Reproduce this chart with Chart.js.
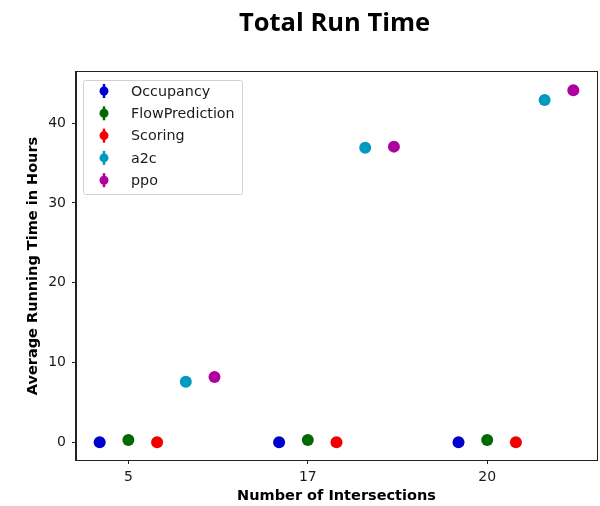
<!DOCTYPE html>
<html>
<head>
<meta charset="utf-8">
<script src="https://cdn.jsdelivr.net/npm/chart.js@4/dist/chart.umd.min.js"></script>
<style>
  html, body { margin: 0; padding: 0; background: #fff; }
  #wrap { width: 600px; height: 506px; position: relative; }
</style>
</head>
<body>
<div id="wrap"><canvas id="chart"></canvas></div>
<script>
// categories along x
const intersections = ["5", "17", "20"];
const seriesNames = ["Occupancy", "FlowPrediction", "Scoring", "a2c", "ppo"];

// average running time in hours, one value per intersection count
const occupancy = [0.0, 0.0, 0.0];
const flowPrediction = [0.3, 0.3, 0.3];
const scoring = [0.0, 0.0, 0.0];
const a2c = [7.6, 36.9, 42.9];
const ppo = [8.2, 37.05, 44.1];

const yTicks = [0, 10, 20, 30, 40];

const seriesValues = [occupancy, flowPrediction, scoring, a2c, ppo];
const seriesColors = ["#0000cc", "#006a00", "#f00000", "#0099c0", "#b000a0"];

const DODGE = 0.16;
const FONT = "'DejaVu Sans', sans-serif";
const TEXT_COLOR = "#1a1a1a";

function buildDatasets() {
  return seriesNames.map((name, i) => ({
    label: name,
    data: seriesValues[i].map((v, j) => ({ x: j + (i - 1) * DODGE, y: v })),
    backgroundColor: seriesColors[i],
    borderColor: seriesColors[i],
    pointRadius: 6,
    pointHoverRadius: 6,
    pointBorderWidth: 0,
    showLine: false,
  }));
}

// top/right spines, title and in-plot legend, drawn in matplotlib style
const frameAndLegend = {
  id: "frameAndLegend",
  afterDraw(chart) {
    const { ctx, chartArea: a } = chart;
    ctx.save();
    ctx.strokeStyle = "#222";
    ctx.lineWidth = 1;
    ctx.strokeRect(Math.round(a.left) - 0.5, Math.round(a.top) - 0.5,
      Math.round(a.right - a.left) + 1, Math.round(a.bottom - a.top) + 1);

    ctx.fillStyle = "#000";
    ctx.font = "bold 25.5px 'Open Sans', Lato, sans-serif";
    ctx.textAlign = "center";
    ctx.textBaseline = "alphabetic";
    ctx.fillText("Total Run Time", (a.left + a.right) / 2 - 2, 31);

    const bx = a.left + 7, by = a.top + 8, bw = 159, bh = 114;
    ctx.fillStyle = "rgba(255,255,255,0.8)";
    ctx.strokeStyle = "#d0d0d0";
    ctx.lineWidth = 1;
    ctx.beginPath();
    ctx.roundRect(bx + 0.5, by + 0.5, bw, bh, 2);
    ctx.fill();
    ctx.stroke();

    ctx.font = "14.3px " + FONT;
    ctx.textAlign = "left";
    ctx.textBaseline = "middle";
    chart.data.datasets.forEach((ds, i) => {
      const cy = by + 11 + i * 22.3;
      const cx = bx + 21;
      ctx.strokeStyle = ds.borderColor;
      ctx.lineWidth = 2.5;
      ctx.beginPath();
      ctx.moveTo(cx, cy - 7);
      ctx.lineTo(cx, cy + 7);
      ctx.stroke();
      ctx.fillStyle = ds.backgroundColor;
      ctx.beginPath();
      ctx.arc(cx, cy, 4.5, 0, Math.PI * 2);
      ctx.fill();
      ctx.fillStyle = TEXT_COLOR;
      ctx.fillText(ds.label, bx + 48, cy + 1);
    });
    ctx.restore();
  },
};

new Chart(document.getElementById("chart"), {
  type: "scatter",
  data: { datasets: buildDatasets() },
  options: {
    responsive: true,
    maintainAspectRatio: false,
    animation: false,
    layout: { padding: { top: 72, right: 3, left: 0, bottom: 0 }, autoPadding: false },
    plugins: {
      legend: { display: false },
      title: { display: false },
      tooltip: { enabled: false },
    },
    scales: {
      x: {
        type: "linear",
        min: -0.292,
        max: 2.612,
        afterBuildTicks(scale) {
          scale.ticks = intersections.map((_, i) => ({ value: i }));
        },
        afterFit(scale) { scale.height = 46; },
        ticks: {
          color: TEXT_COLOR,
          font: { family: FONT, size: 14 },
          padding: 5,
          maxRotation: 0,
          callback(value) { return intersections[value]; },
        },
        grid: { drawOnChartArea: false, drawTicks: true, tickLength: 4, color: "#222" },
        border: { display: true, color: "#222", width: 1 },
        title: {
          display: true,
          text: "Number of Intersections",
          color: "#000",
          font: { family: FONT, size: 14.5, weight: "bold" },
          padding: { top: 0, bottom: 1 },
        },
      },
      y: {
        min: -2.21,
        max: 46.4,
        afterBuildTicks(scale) {
          scale.ticks = yTicks.map((v) => ({ value: v }));
        },
        afterFit(scale) { scale.width = 76; },
        ticks: {
          color: TEXT_COLOR,
          font: { family: FONT, size: 14 },
          padding: 6,
        },
        grid: { drawOnChartArea: false, drawTicks: true, tickLength: 4, color: "#222" },
        border: { display: true, color: "#222", width: 1 },
        title: {
          display: true,
          text: "Average Running Time in Hours",
          color: "#000",
          font: { family: FONT, size: 14.5, weight: "bold" },
          padding: { top: 25, bottom: 0 },
        },
      },
    },
  },
  plugins: [frameAndLegend],
});
</script>
</body>
</html>
